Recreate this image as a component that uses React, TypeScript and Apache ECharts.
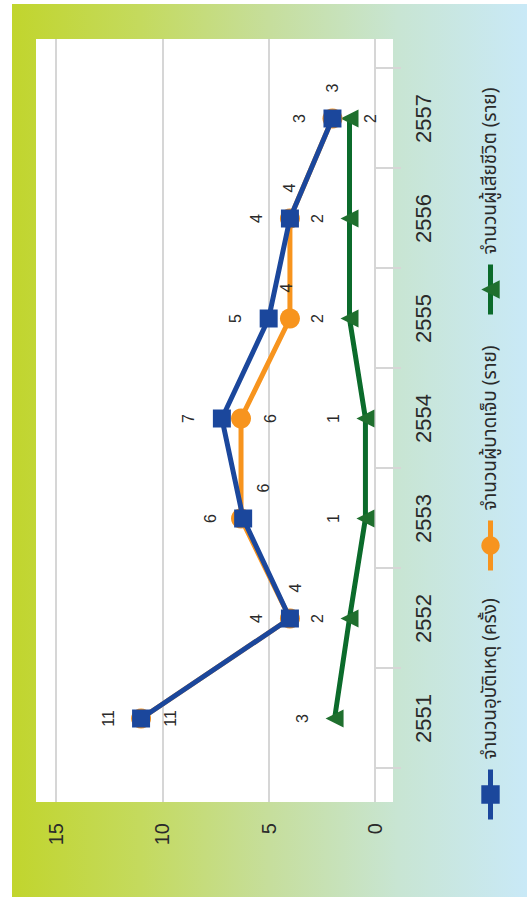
import React, { useEffect, useRef } from 'react';
import * as echarts from 'echarts';

// ---- data ----
const categories = ['2551', '2552', '2553', '2554', '2555', '2556', '2557'];
const seriesNames = ['จำนวนอุบัติเหตุ (ครั้ง)', 'จำนวนผู้บาดเจ็บ (ราย)', 'จำนวนผู้เสียชีวิต (ราย)'];
// plotted positions
const accidents = [11, 4, 6.2, 7.2, 5, 4, 2];
const injured = [11, 4, 6.3, 6.3, 4, 4, 2];
const deaths = [1.9, 1.2, 0.45, 0.45, 1.2, 1.2, 1.2];
// printed value labels
const accidentLabels = ['11', '4', '6', '7', '5', '4', '3'];
const injuredLabels = ['11', '4', '6', '6', '4', '4', '3'];
const deathLabels = ['3', '2', '1', '1', '2', '2', '2'];
const valueMin = 0;
const valueMax = 15;
const valueStep = 5;

// ---- styles ----
const BLUE = '#1b479c';
const ORANGE = '#f7941e';
const GREEN_LINE = '#0b6b2b';
const GREEN_MARK = '#1f6f2e';
const GRID_GRAY = '#d6d6d6';
const FONT = '"Liberation Sans", Arial, Helvetica, sans-serif';
const THAI_FONT = '"Noto Sans Thai", "Noto Sans", "DejaVu Sans", sans-serif';
const accPos = ['top', 'top', 'top', 'top', 'top', 'top', 'top'];
const injPos = ['bottom', 'right', 'right', 'bottom', 'right', 'right', 'right'];
const injOffset = [[0, 0], [0, 6], [0, 22], [0, 0], [0, -3], [0, 0], [0, 0]];
const deathPos = ['top', 'top', 'top', 'top', 'top', 'top', 'bottom'];
const legendLeft = [70, 319, 575];

export default function App() {
  const ref = useRef<HTMLDivElement>(null);
  useEffect(() => {
    const el = ref.current!;
    const chart = echarts.init(el, null, { renderer: 'svg', width: 897, height: 527 });
    const labelBase = { show: true, fontSize: 16, color: '#2a2a2a', fontFamily: FONT };
    const option: any = {
      animation: false,
      backgroundColor: 'transparent',
      graphic: [
        {
          type: 'rect',
          z: -10,
          silent: true,
          shape: { x: 95, y: 36, width: 763, height: 357 },
          style: { fill: '#ffffff' },
        },
      ],
      grid: [
        { left: 95, width: 763, top: 56, height: 319, show: false },
        { left: 128.5, width: 700, top: 56, height: 319, show: false },
      ],
      xAxis: [
        { gridIndex: 0, type: 'value', show: false, min: 0, max: 1 },
        {
          gridIndex: 1,
          type: 'category',
          data: categories,
          boundaryGap: true,
          axisLine: { show: false },
          axisTick: { show: true, length: 26, lineStyle: { color: GRID_GRAY, width: 2 } },
          axisLabel: { fontSize: 22, color: '#2a2a2a', margin: 37, fontFamily: FONT },
          splitLine: { show: false },
        },
      ],
      yAxis: [
        {
          gridIndex: 0,
          type: 'value',
          min: valueMin,
          max: valueMax,
          interval: valueStep,
          axisLine: { show: false },
          axisTick: { show: false },
          axisLabel: { fontSize: 20, color: '#2a2a2a', margin: 21, fontFamily: FONT, padding: [0, 0, 10, 0] },
          splitLine: { show: true, lineStyle: { color: GRID_GRAY, width: 2 } },
        },
        {
          gridIndex: 1,
          type: 'value',
          min: valueMin,
          max: valueMax,
          interval: valueStep,
          show: false,
          splitLine: { show: false },
        },
      ],
      legend: seriesNames.map((name, i) => ({
        data: [name],
        left: legendLeft[i],
        top: 476,
        itemWidth: 50,
        itemHeight: 23,
        selectedMode: false,
        lineStyle: { width: 5 },
        textStyle: { fontSize: 19, color: '#2a2a2a', fontFamily: THAI_FONT, padding: [0, 0, 0, 5] },
      })),
      series: [
        {
          type: 'line',
          name: seriesNames[0],
          xAxisIndex: 1,
          yAxisIndex: 1,
          z: 4,
          symbol: 'rect',
          symbolSize: 18,
          lineStyle: { color: BLUE, width: 5 },
          itemStyle: { color: BLUE },
          data: accidents.map((v, i) => ({
            value: v,
            label: { ...labelBase, position: accPos[i], distance: 16, formatter: () => accidentLabels[i] },
          })),
        },
        {
          type: 'line',
          name: seriesNames[1],
          xAxisIndex: 1,
          yAxisIndex: 1,
          z: 3,
          symbol: 'circle',
          symbolSize: 20,
          lineStyle: { color: ORANGE, width: 5 },
          itemStyle: { color: ORANGE },
          data: injured.map((v, i) => ({
            value: v,
            label: {
              ...labelBase,
              position: injPos[i],
              distance: injPos[i] === 'bottom' ? 11 : 16,
              offset: injOffset[i],
              formatter: () => injuredLabels[i],
            },
          })),
        },
        {
          type: 'line',
          name: seriesNames[2],
          xAxisIndex: 1,
          yAxisIndex: 1,
          z: 2,
          symbol: 'triangle',
          symbolSize: 18,
          lineStyle: { color: GREEN_LINE, width: 5 },
          itemStyle: { color: GREEN_MARK },
          data: deaths.map((v, i) => ({
            value: v,
            label: {
              ...labelBase,
              position: deathPos[i],
              distance: deathPos[i] === 'bottom' ? 4 : 15,
              formatter: () => deathLabels[i],
            },
          })),
        },
      ],
    };
    chart.setOption(option);
    return () => chart.dispose();
  }, []);

  return (
    <div style={{ position: 'absolute', left: 0, top: 0, width: 527, height: 897, overflow: 'hidden', background: '#ffffff' }}>
      <div
        style={{
          position: 'absolute',
          left: 12,
          top: 4,
          width: 515,
          height: 893,
          background: 'linear-gradient(to right, #c1d52d 0%, #c4da5e 25%, #c6de9c 50%, #c8e5d3 75%, #c9e9f7 100%)',
        }}
      />
      <div
        ref={ref}
        style={{
          position: 'absolute',
          left: 0,
          top: 0,
          width: 897,
          height: 527,
          transformOrigin: '0 0',
          transform: 'translateY(897px) rotate(-90deg)',
        }}
      />
    </div>
  );
}
